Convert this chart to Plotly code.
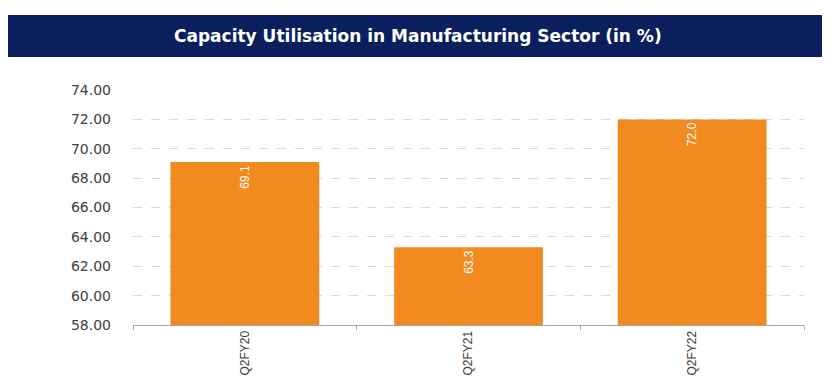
import plotly.graph_objects as go

categories = ["Q2FY20", "Q2FY21", "Q2FY22"]
values = [69.1, 63.3, 72.0]
value_labels = ["69.1", "63.3", "72.0"]
y_ticks = [58, 60, 62, 64, 66, 68, 70, 72, 74]

L, R, T, B = 133, 31, 90, 67
W, H = 835, 392
pw, ph = W - L - R, H - T - B

def px(x):
    return (x - L) / pw

def py(y):
    return (H - B - y) / ph

fig = go.Figure(go.Bar(
    x=categories, y=values, text=value_labels,
    textposition="inside", insidetextanchor="end", textangle=-90,
    textfont=dict(family="Liberation Sans Narrow, Liberation Sans, Arial", size=12, color="white"),
    marker=dict(color="#F28A1F", line=dict(width=0)),
    width=0.665, cliponaxis=False,
))

fig.update_layout(
    width=W, height=H,
    margin=dict(l=L, r=R, t=T, b=B),
    paper_bgcolor="white", plot_bgcolor="white",
    showlegend=False,
    xaxis=dict(
        showline=True, linecolor="#A6A6A6", linewidth=1,
        ticks="outside", tickson="boundaries", ticklen=4, tickcolor="#A6A6A6",
        tickangle=-90,
        tickfont=dict(family="Liberation Sans Narrow, Liberation Sans, Arial", size=12, color="#404040"),
    ),
    yaxis=dict(
        range=[58, 74], tickvals=y_ticks, tickformat=".2f",
        showgrid=True, gridcolor="#D9D9D9", griddash="dash", gridwidth=1,
        zeroline=False, showline=False, ticks="",
        tickfont=dict(family="DejaVu Sans, Arial", size=14, color="#404040"),
        ticklabelstandoff=21,
    ),
    shapes=[dict(
        type="rect", xref="paper", yref="paper",
        x0=px(8), x1=px(822), y0=py(57), y1=py(15),
        fillcolor="#0B1F5E", line=dict(width=0), layer="above",
    )],
    annotations=[dict(
        xref="paper", yref="paper", x=px(418), y=py(36),
        text="<b>Capacity Utilisation in Manufacturing Sector (in %)</b>",
        showarrow=False, xanchor="center", yanchor="middle",
        font=dict(family="DejaVu Sans, Arial", size=17, color="white"),
    )],
)

fig.write_html("out.html")
